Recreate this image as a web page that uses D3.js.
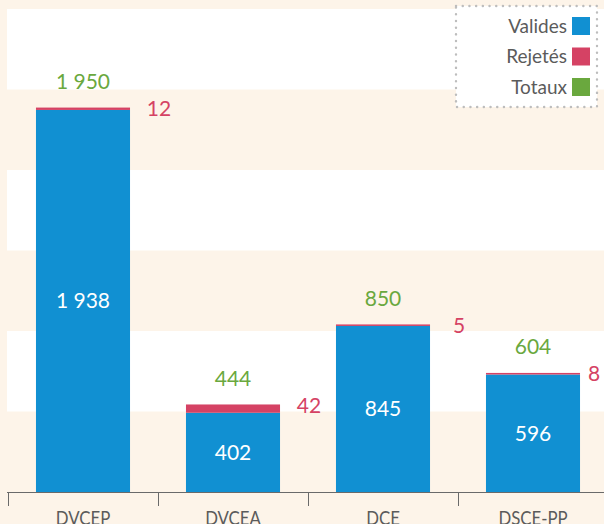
<!DOCTYPE html>
<html>
<head>
<meta charset="utf-8">
<script src="https://cdn.jsdelivr.net/npm/d3@7"></script>
<style>
  body { margin: 0; background: #fdf4e9; }
  svg { display: block; }
  text { font-family: "Lato", "Open Sans", sans-serif; }
</style>
</head>
<body>
<svg id="chart" width="604" height="524"></svg>
<script>
const categories = ["DVCEP", "DVCEA", "DCE", "DSCE-PP"]
const valides = [1938, 402, 845, 596]
const rejetes = [12, 42, 5, 8]
const totaux = [1950, 444, 850, 604]
const legendLabels = ["Valides", "Rejetés", "Totaux"]

const width = 604
const height = 524
const yMax = 2450

const COLORS = {
    valides: "#1190d2",
    rejetes: "#d54264",
    totaux: "#6aa83e",
    text: "#5b5b5b",
    cream: "#fdf4e9"
}

let svg = d3.select("#chart")

const x = d3.scaleBand()
    .domain(categories)
    .range([8, 608])

const y = d3.scaleLinear()
    .domain([0, yMax])
    .range([492, 9])

const barW = x.bandwidth() * 0.627
const barX = d => x(d) + (x.bandwidth() - barW) / 2
const cx = d => x(d) + x.bandwidth() / 2

// alternating bands
const bandStep = yMax / 6
const bands = d3.range(0, 6).map(i => i * bandStep)
svg.append("g")
    .selectAll("rect")
    .data(bands)
    .enter()
    .append("rect")
    .attr("x", 7)
    .attr("width", width - 7)
    .attr("y", d => y(d + bandStep))
    .attr("height", d => y(d) - y(d + bandStep))
    .attr("fill", (d, i) => i % 2 === 0 ? COLORS.cream : "#ffffff")

let rows = categories.map((c, i) => ({ cat: c, v: valides[i], r: rejetes[i], t: totaux[i] }))

// bars
let bars = svg.append("g")
bars.selectAll(".valide")
    .data(rows)
    .enter()
    .append("rect")
    .attr("class", "valide")
    .attr("x", d => barX(d.cat))
    .attr("width", barW)
    .attr("y", d => y(d.v))
    .attr("height", d => y(0) - y(d.v))
    .attr("fill", COLORS.valides)

bars.selectAll(".rejete")
    .data(rows)
    .enter()
    .append("rect")
    .attr("class", "rejete")
    .attr("x", d => barX(d.cat))
    .attr("width", barW)
    .attr("y", d => y(d.v + d.r))
    .attr("height", d => Math.max(1.5, y(d.v) - y(d.v + d.r)))
    .attr("fill", COLORS.rejetes)

const fmt = n => d3.format(",")(n).replace(",", " ")

// labels
let labels = svg.append("g").attr("font-size", 21)
labels.selectAll(".lv")
    .data(rows)
    .enter()
    .append("text")
    .attr("x", d => cx(d.cat))
    .attr("y", d => (y(d.v) + y(0)) / 2)
    .attr("dy", "0.35em")
    .attr("text-anchor", "middle")
    .attr("fill", "#ffffff")
    .text(d => fmt(d.v))

labels.selectAll(".lt")
    .data(rows)
    .enter()
    .append("text")
    .attr("x", d => cx(d.cat))
    .attr("y", d => y(d.t) - 26)
    .attr("dy", "0.35em")
    .attr("text-anchor", "middle")
    .attr("fill", COLORS.totaux)
    .text(d => fmt(d.t))

labels.selectAll(".lr")
    .data(rows)
    .enter()
    .append("text")
    .attr("x", d => Math.min(cx(d.cat) + 76, width - 10))
    .attr("y", d => y(d.t) + 1)
    .attr("dy", "0.35em")
    .attr("text-anchor", "middle")
    .attr("fill", COLORS.rejetes)
    .text(d => d.r)

// axis
let axis = svg.append("g").attr("stroke", "#6a6a6a").attr("stroke-width", 1)
axis.append("line")
    .attr("x1", 7).attr("x2", width)
    .attr("y1", 492.5).attr("y2", 492.5)
axis.selectAll(".tick")
    .data(categories)
    .enter()
    .append("line")
    .attr("x1", d => Math.round(x(d)) + 0.5)
    .attr("x2", d => Math.round(x(d)) + 0.5)
    .attr("y1", 492)
    .attr("y2", 506)

svg.append("g")
    .selectAll("text")
    .data(categories)
    .enter()
    .append("text")
    .attr("transform", d => "translate(" + cx(d) + ",524.5) scale(0.84,1)")
    .attr("text-anchor", "middle")
    .attr("font-size", 20)
    .attr("fill", COLORS.text)
    .text(d => d)

// legend
let legend = svg.append("g").attr("id", "legend")
legend.append("rect")
    .attr("x", 456).attr("y", 6)
    .attr("width", 141).attr("height", 101)
    .attr("fill", "#ffffff")
    .attr("stroke", "#bdbdbd")
    .attr("stroke-width", 2.4)
    .attr("stroke-linecap", "round")
    .attr("stroke-dasharray", "0.1,6.6")

const legendColors = [COLORS.valides, COLORS.rejetes, COLORS.totaux]
let items = legend.selectAll(".item")
    .data(legendLabels)
    .enter()
    .append("g")
    .attr("transform", (d, i) => "translate(0," + (17 + i * 30.5) + ")")
items.append("rect")
    .attr("x", 572).attr("y", 0)
    .attr("width", 18).attr("height", 18)
    .attr("fill", (d, i) => legendColors[i])
items.append("text")
    .attr("x", 567).attr("y", 9)
    .attr("dy", "0.35em")
    .attr("text-anchor", "end")
    .attr("font-size", 19)
    .attr("fill", COLORS.text)
    .text(d => d)
</script>
</body>
</html>
